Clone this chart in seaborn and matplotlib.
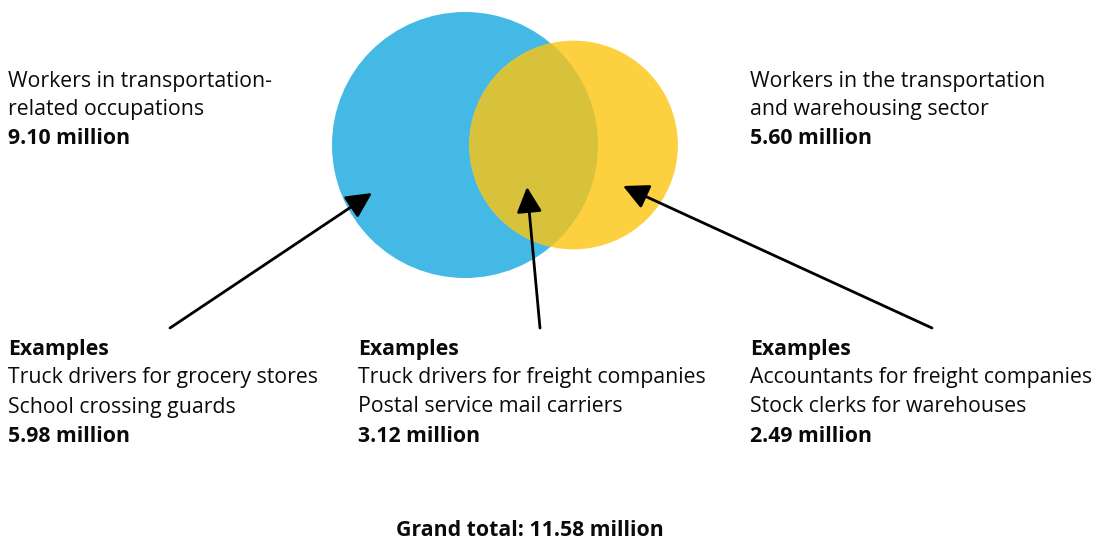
import numpy as np
import matplotlib
matplotlib.use("Agg")
import matplotlib.pyplot as plt
import seaborn as sns
from matplotlib.patches import Circle, FancyArrowPatch

# ---- data ----
set_names = ["Workers in transportation-\nrelated occupations",
             "Workers in the transportation\nand warehousing sector"]
set_totals = [9.10, 5.60]          # million
overlap_total = 3.12
only_left = 5.98
only_right = 2.49
grand_total = 11.58
example_lines_left = ["Truck drivers for grocery stores", "School crossing guards"]
example_lines_mid = ["Truck drivers for freight companies", "Postal service mail carriers"]
example_lines_right = ["Accountants for freight companies", "Stock clerks for warehouses"]

BLUE = "#45B9E5"
YELLOW = "#FCD03E"
OVERLAP = "#D8C23B"

sns.set_style("white")
plt.rcParams["font.family"] = ["Open Sans", "DejaVu Sans"]

fig = plt.figure(figsize=(10.97, 5.42), dpi=100)
ax = fig.add_axes([0, 0, 1, 1])
ax.set_xlim(0, 1097)
ax.set_ylim(542, 0)
ax.axis("off")

# radii proportional to sqrt of value
k = 133 / np.sqrt(set_totals[0])
r1 = k * np.sqrt(set_totals[0])
r2 = k * np.sqrt(set_totals[1])
target = np.pi * k**2 * overlap_total

def lens_area(d, a, b):
    if d >= a + b:
        return 0.0
    if d <= abs(a - b):
        return np.pi * min(a, b) ** 2
    p1 = a*a*np.arccos((d*d + a*a - b*b) / (2*d*a))
    p2 = b*b*np.arccos((d*d + b*b - a*a) / (2*d*b))
    p3 = 0.5*np.sqrt((-d+a+b)*(d+a-b)*(d-a+b)*(d+a+b))
    return p1 + p2 - p3

lo, hi = abs(r1 - r2) + 1e-6, r1 + r2
for _ in range(100):
    mid = (lo + hi) / 2
    if lens_area(mid, r1, r2) > target:
        lo = mid
    else:
        hi = mid
dist = (lo + hi) / 2

cy = 145
c1x = 465
c2x = c1x + dist

blue = Circle((c1x, cy), r1, color=BLUE, lw=0)
ax.add_patch(blue)
yel = Circle((c2x, cy), r2, color=YELLOW, lw=0)
ax.add_patch(yel)
ov = Circle((c2x, cy), r2, color=OVERLAP, lw=0)
ax.add_patch(ov)
clipc = Circle((c1x, cy), r1, transform=ax.transData)
ov.set_clip_path(clipc)

fs = 15.35
lh = 29

def block(x, y0, lines, bold_idx):
    for i, line in enumerate(lines):
        ax.text(x, y0 + i*lh, line, fontsize=fs, va="center", ha="left",
                fontweight="bold" if i in bold_idx else "normal", color="#0a0a0a")

def fmt(v):
    return f"{v:.2f} million"

block(8, 81, set_names[0].split("\n") + [fmt(set_totals[0])], {2})
block(750, 81, set_names[1].split("\n") + [fmt(set_totals[1])], {2})
block(8, 349, ["Examples"] + example_lines_left + [fmt(only_left)], {0, 3})
block(358, 349, ["Examples"] + example_lines_mid + [fmt(overlap_total)], {0, 3})
block(750, 349, ["Examples"] + example_lines_right + [fmt(only_right)], {0, 3})

ax.text(530, 531, f"Grand total: {grand_total:.2f} million", fontsize=fs,
        fontweight="bold", ha="center", va="center", color="#0a0a0a")

arrows = [((170, 328), (372, 193)), ((540, 328), (527, 187)), ((932, 328), (623, 186))]
for s, e in arrows:
    ax.add_patch(FancyArrowPatch(s, e, arrowstyle="-|>,head_length=7,head_width=3.5",
                                 mutation_scale=2.2, color="black", lw=2,
                                 shrinkA=0, shrinkB=0))

fig.savefig("out.png", dpi=100)
